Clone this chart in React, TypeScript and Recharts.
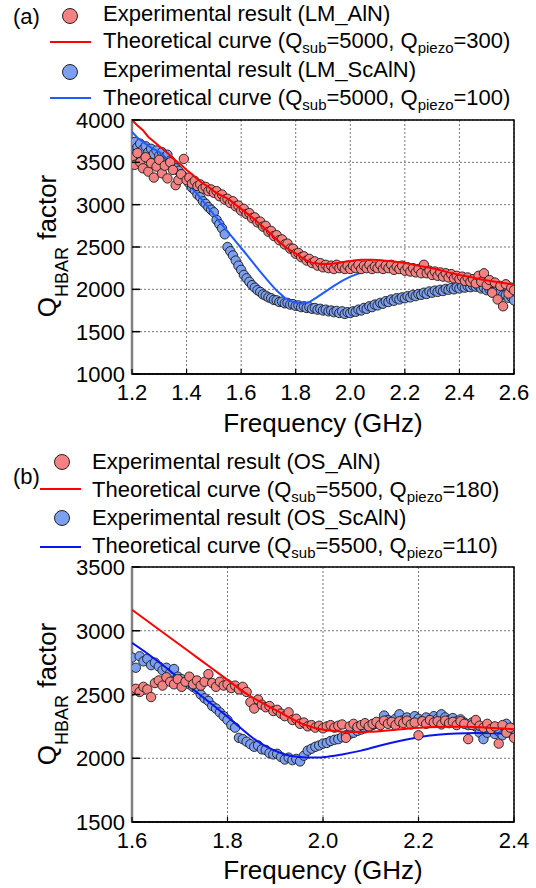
import { ComposedChart, Scatter, Line, XAxis, YAxis, CartesianGrid, ReferenceArea } from 'recharts';

const FONT = '"Liberation Sans", Arial, Helvetica, sans-serif';
const RED_DOT = '#f58282';
const BLUE_DOT = '#7d9ff0';
const RED_LINE = '#ff0000';
const BLUE_LINE_A = '#1f5bff';
const BLUE_LINE_B = '#0a14f0';

// ---- panel (a): LM samples ----
const lmFreqTicks = [1.2, 1.4, 1.6, 1.8, 2.0, 2.2, 2.4, 2.6];
const lmQTicks = [1000, 1500, 2000, 2500, 3000, 3500, 4000];

const lmFreq = [
    1.20, 1.21, 1.22, 1.23, 1.24, 1.25, 1.26, 1.27, 1.28, 1.29,
    1.30, 1.31, 1.32, 1.33, 1.34, 1.35, 1.36, 1.37, 1.38, 1.39,
    1.40, 1.41, 1.42, 1.43, 1.44, 1.45, 1.46, 1.47, 1.48, 1.49,
    1.50, 1.51, 1.52, 1.53, 1.54, 1.55, 1.56, 1.57, 1.58, 1.59,
    1.60, 1.61, 1.62, 1.63, 1.64, 1.65, 1.66, 1.67, 1.68, 1.69,
    1.70, 1.71, 1.72, 1.73, 1.74, 1.75, 1.76, 1.77, 1.78, 1.79,
    1.80, 1.81, 1.82, 1.83, 1.84, 1.85, 1.86, 1.87, 1.88, 1.89,
    1.90, 1.91, 1.92, 1.93, 1.94, 1.95, 1.96, 1.97, 1.98, 1.99,
    2.00, 2.01, 2.02, 2.03, 2.04, 2.05, 2.06, 2.07, 2.08, 2.09,
    2.10, 2.11, 2.12, 2.13, 2.14, 2.15, 2.16, 2.17, 2.18, 2.19,
    2.20, 2.21, 2.22, 2.23, 2.24, 2.25, 2.26, 2.27, 2.28, 2.29,
    2.30, 2.31, 2.32, 2.33, 2.34, 2.35, 2.36, 2.37, 2.38, 2.39,
    2.40, 2.41, 2.42, 2.43, 2.44, 2.45, 2.46, 2.47, 2.48, 2.49,
    2.50, 2.51, 2.52, 2.53, 2.54, 2.55, 2.56, 2.57, 2.58, 2.59,
    2.60,
];

const lmAlnQ = [
    3560, 3470, 3610, 3500, 3430, 3560, 3390, 3490, 3320, 3450,
    3530, 3370, 3460, 3310, 3500, 3410, 3230, 3290, 3360, 3540,
    3290, 3320, 3250, 3280, 3220, 3240, 3190, 3210, 3160, 3180,
    3140, 3160, 3100, 3120, 3060, 3070, 3020, 3040, 2980, 2990,
    2930, 2950, 2890, 2900, 2840, 2850, 2790, 2800, 2740, 2750,
    2680, 2690, 2630, 2640, 2580, 2590, 2530, 2540, 2480, 2480,
    2420, 2430, 2380, 2390, 2340, 2360, 2310, 2330, 2280, 2310,
    2260, 2290, 2250, 2280, 2240, 2290, 2250, 2270, 2240, 2280,
    2240, 2280, 2250, 2290, 2240, 2280, 2250, 2290, 2240, 2270,
    2250, 2290, 2240, 2280, 2250, 2290, 2230, 2270, 2240, 2280,
    2220, 2260, 2210, 2250, 2200, 2240, 2190, 2290, 2190, 2220,
    2170, 2210, 2160, 2200, 2150, 2190, 2140, 2180, 2130, 2160,
    2120, 2150, 2100, 2140, 2090, 2120, 2070, 2160, 2090, 2190,
    2050, 2110, 1960, 2080, 1880, 2040, 1800, 2060, 1950, 2020,
    1990,
];

const lmScalnQ = [
    3700, 3740, 3680, 3720, 3650, 3690, 3620, 3660, 3600, 3640,
    3580, 3620, 3560, 3590, 3520, 3480, 3430, 3400, 3360, 3320,
    3290, 3250, 3200, 3170, 3120, 3090, 3040, 3010, 2970, 2940,
    2910, 2820, 2770, 2720, 2650, 2500, 2450, 2400, 2340, 2280,
    2230, 2170, 2130, 2090, 2050, 2020, 1990, 1970, 1940, 1925,
    1905, 1895, 1875, 1870, 1850, 1855, 1835, 1840, 1820, 1825,
    1805, 1810, 1790, 1800, 1780, 1790, 1770, 1780, 1760, 1770,
    1750, 1760, 1740, 1750, 1730, 1745, 1720, 1740, 1710, 1730,
    1720, 1740, 1735, 1760, 1750, 1780, 1770, 1800, 1790, 1820,
    1810, 1840, 1830, 1860, 1850, 1880, 1865, 1895, 1880, 1905,
    1895, 1920, 1905, 1935, 1920, 1945, 1935, 1960, 1945, 1975,
    1960, 1985, 1970, 1995, 1980, 2005, 1995, 2015, 2000, 2025,
    2010, 2035, 2020, 2040, 2025, 2045, 2030, 2040, 2010, 2020,
    1990, 2000, 1970, 1975, 1950, 1960, 1930, 1935, 1900, 1910,
    1870,
];

const lmAlnTheory = [
    [1.20, 4000], [1.22, 3935], [1.24, 3880], [1.26, 3800], [1.28, 3745], [1.30, 3690],
    [1.32, 3640], [1.34, 3580], [1.36, 3520], [1.38, 3470], [1.40, 3410], [1.42, 3360],
    [1.44, 3300], [1.46, 3250], [1.48, 3210], [1.50, 3160], [1.52, 3120], [1.54, 3090],
    [1.56, 3050], [1.58, 3000], [1.60, 2950], [1.62, 2900], [1.64, 2850], [1.66, 2795],
    [1.68, 2740], [1.70, 2680], [1.72, 2620], [1.74, 2560], [1.76, 2505], [1.78, 2460],
    [1.80, 2425], [1.82, 2380], [1.84, 2340], [1.86, 2315], [1.88, 2305], [1.90, 2300],
    [1.92, 2300], [1.94, 2305], [1.96, 2315], [1.98, 2325], [2.00, 2335], [2.02, 2345],
    [2.04, 2350], [2.06, 2350], [2.08, 2348], [2.10, 2345], [2.12, 2340], [2.14, 2335],
    [2.16, 2328], [2.18, 2320], [2.20, 2310], [2.22, 2298], [2.24, 2285], [2.26, 2272],
    [2.28, 2260], [2.30, 2250], [2.33, 2225], [2.36, 2200], [2.40, 2170], [2.44, 2145],
    [2.48, 2115], [2.52, 2095], [2.56, 2075], [2.60, 2055],
];

const lmScalnTheory = [
    [1.20, 3860], [1.22, 3790], [1.24, 3745], [1.26, 3695], [1.28, 3655], [1.30, 3620],
    [1.32, 3565], [1.34, 3490], [1.35, 3440], [1.36, 3370], [1.37, 3330], [1.38, 3320],
    [1.40, 3260], [1.43, 3160], [1.46, 3045], [1.49, 2925], [1.52, 2800], [1.55, 2685],
    [1.58, 2565], [1.61, 2450], [1.64, 2330], [1.67, 2210], [1.70, 2095], [1.73, 1985],
    [1.76, 1900], [1.79, 1850], [1.82, 1830], [1.85, 1850], [1.88, 1910], [1.91, 1975],
    [1.94, 2040], [1.97, 2100], [2.00, 2150], [2.03, 2185], [2.06, 2220], [2.10, 2250],
    [2.15, 2270], [2.20, 2265], [2.30, 2225], [2.40, 2165], [2.50, 2095], [2.60, 2050],
];

// ---- panel (b): OS samples ----
const osFreqTicks = [1.6, 1.8, 2.0, 2.2, 2.4];
const osQTicks = [1500, 2000, 2500, 3000, 3500];

const osFreq = [
    1.600, 1.608, 1.616, 1.624, 1.632, 1.640, 1.648, 1.656, 1.664, 1.672,
    1.680, 1.688, 1.696, 1.704, 1.712, 1.720, 1.728, 1.736, 1.744, 1.752,
    1.760, 1.768, 1.776, 1.784, 1.792, 1.800, 1.808, 1.816, 1.824, 1.832,
    1.840, 1.848, 1.856, 1.864, 1.872, 1.880, 1.888, 1.896, 1.904, 1.912,
    1.920, 1.928, 1.936, 1.944, 1.952, 1.960, 1.968, 1.976, 1.984, 1.992,
    2.000, 2.008, 2.016, 2.024, 2.032, 2.040, 2.048, 2.056, 2.064, 2.072,
    2.080, 2.088, 2.096, 2.104, 2.112, 2.120, 2.128, 2.136, 2.144, 2.152,
    2.160, 2.168, 2.176, 2.184, 2.192, 2.200, 2.208, 2.216, 2.224, 2.232,
    2.240, 2.248, 2.256, 2.264, 2.272, 2.280, 2.288, 2.296, 2.304, 2.312,
    2.320, 2.328, 2.336, 2.344, 2.352, 2.360, 2.368, 2.376, 2.384, 2.392,
    2.400,
];

const osAlnQ = [
    2530, 2545, 2520, 2560, 2540, 2480, 2590, 2610, 2570, 2635,
    2600, 2580, 2620, 2560, 2600, 2640, 2580, 2610, 2570, 2600,
    2660, 2590, 2560, 2600, 2570, 2580, 2550, 2570, 2540, 2560,
    2520, 2440, 2390, 2460, 2420, 2400, 2410, 2370, 2380, 2350,
    2330, 2360, 2300, 2310, 2270, 2280, 2250, 2260, 2240, 2255,
    2235, 2250, 2260, 2240, 2255, 2265, 2160, 2250, 2270, 2245,
    2260, 2275, 2250, 2270, 2285, 2260, 2295, 2270, 2285, 2260,
    2290, 2275, 2295, 2265, 2280, 2180, 2290, 2270, 2300, 2280,
    2290, 2265, 2295, 2275, 2285, 2260, 2290, 2270, 2150, 2260,
    2300, 2255, 2240, 2270, 2230, 2250, 2115, 2260, 2200, 2240,
    2160,
];

const osScalnQ = [
    2790, 2710, 2800, 2760, 2780, 2730, 2750, 2720, 2690, 2710,
    2670, 2700, 2640, 2620, 2600, 2580, 2560, 2540, 2500, 2470,
    2450, 2410, 2390, 2360, 2330, 2300, 2260, 2240, 2160, 2150,
    2130, 2110, 2090, 2100, 2070, 2065, 2040, 2030, 2035, 2010,
    1990, 2005, 1985, 1995, 1975, 2020, 2060, 2075, 2090, 2100,
    2115, 2120, 2135, 2145, 2150, 2165, 2180, 2190, 2200, 2215,
    2225, 2235, 2245, 2260, 2270, 2280, 2335, 2300, 2290, 2310,
    2345, 2300, 2320, 2290, 2330, 2310, 2295, 2320, 2300, 2330,
    2310, 2345, 2320, 2300, 2315, 2290, 2305, 2280, 2260, 2280,
    2250, 2200, 2150, 2200, 2230, 2190, 2210, 2180, 2270, 2200,
    2180,
];

const osAlnTheory = [
    [1.60, 3165], [1.64, 3055], [1.68, 2945], [1.72, 2835], [1.76, 2725], [1.80, 2615],
    [1.84, 2505], [1.87, 2440], [1.90, 2380], [1.93, 2318], [1.96, 2265], [1.99, 2232],
    [2.02, 2215], [2.06, 2205], [2.10, 2208], [2.14, 2220], [2.18, 2233], [2.22, 2243],
    [2.26, 2248], [2.30, 2248], [2.34, 2242], [2.38, 2233], [2.40, 2228],
];

const osScalnTheory = [
    [1.60, 2905], [1.64, 2800], [1.68, 2685], [1.72, 2565], [1.76, 2445], [1.80, 2325],
    [1.83, 2230], [1.86, 2140], [1.89, 2075], [1.92, 2030], [1.95, 2010], [1.98, 2005],
    [2.01, 2012], [2.04, 2030], [2.08, 2060], [2.12, 2100], [2.16, 2135], [2.20, 2165],
    [2.24, 2185], [2.28, 2195], [2.32, 2198], [2.36, 2196], [2.40, 2190],
];

const zip = (fs: number[], qs: number[]) => fs.map((f, i) => ({ f, q: qs[i] }));
const pairs = (pts: number[][]) => pts.map(([f, q]) => ({ f, q }));

const dot = (fill: string) => (props: any) => (
    <circle cx={props.cx} cy={props.cy} r={4.7} fill={fill} stroke="#1a1a1a" strokeWidth={0.9} />
);

const XTick = (props: any) => {
    const { x, y, payload } = props;
    return (
        <g>
            <line x1={x} x2={x} y1={y} y2={y - 5} stroke="#000" strokeWidth={1.2} />
            <text x={x} y={y + 26} textAnchor="middle" fontSize={22} fontFamily={FONT} fill="#000">
                {Number(payload.value).toFixed(1)}
            </text>
        </g>
    );
};

const YTick = (props: any) => {
    const { x, y, payload } = props;
    return (
        <g>
            <line x1={x + 7} x2={x + 15} y1={y} y2={y} stroke="#000" strokeWidth={1.5} />
            <text x={x} y={y + 8} textAnchor="end" fontSize={22} fontFamily={FONT} fill="#000">
                {payload.value}
            </text>
        </g>
    );
};

function Panel({ top, height, marginTop, xTicks, yTicks, aln, scaln, alnTheory, scalnTheory, blueLine, curve }: any) {
    const xDom = [xTicks[0], xTicks[xTicks.length - 1]];
    const yDom = [yTicks[0], yTicks[yTicks.length - 1]];
    return (
        <div style={{ position: 'absolute', left: 0, top }}>
            <ComposedChart width={536} height={height} margin={{ top: marginTop, right: 22, bottom: 26, left: 0 }}>
                <CartesianGrid stroke="#777" strokeDasharray="2 2" />
                <XAxis
                    type="number"
                    dataKey="f"
                    domain={xDom}
                    ticks={xTicks}
                    allowDataOverflow
                    interval={0}
                    height={40}
                    tickSize={0}
                    tickMargin={0}
                    tickLine={false}
                    axisLine={{ stroke: '#000', strokeWidth: 1.5 }}
                    tick={(p: any) => <XTick {...p} />}
                />
                <YAxis
                    type="number"
                    dataKey="q"
                    domain={yDom}
                    ticks={yTicks}
                    allowDataOverflow
                    interval={0}
                    width={132}
                    tickSize={0}
                    tickMargin={7}
                    tickLine={false}
                    axisLine={{ stroke: '#808080', strokeWidth: 2.5 }}
                    tick={(p: any) => <YTick {...p} />}
                />
                <ReferenceArea x1={xDom[0]} x2={xDom[1]} y1={yDom[0]} y2={yDom[1]} fill="none" stroke="#000" strokeWidth={1.5} />
                <Scatter data={scaln} dataKey="q" shape={dot(BLUE_DOT)} isAnimationActive={false} zIndex={600} />
                <Line data={scalnTheory} dataKey="q" type={curve} stroke={blueLine} strokeWidth={2} dot={false} isAnimationActive={false} zIndex={610} />
                <Scatter data={aln} dataKey="q" shape={dot(RED_DOT)} isAnimationActive={false} zIndex={620} />
                <Line data={alnTheory} dataKey="q" type={curve} stroke={RED_LINE} strokeWidth={2} dot={false} isAnimationActive={false} zIndex={630} />
            </ComposedChart>
        </div>
    );
}

function TheoryLabel({ x, y, sub, piezo }: { x: number, y: number, sub: string, piezo: string }) {
    return (
        <text x={x} y={y} fontSize={22}>
            Theoretical curve (Q<tspan fontSize={15} dy={5}>sub</tspan>
            <tspan dy={-5}>={sub}, Q</tspan>
            <tspan fontSize={15} dy={5}>piezo</tspan>
            <tspan dy={-5}>={piezo})</tspan>
        </text>
    );
}

function YTitle({ x, y }: { x: number, y: number }) {
    return (
        <text transform={`translate(${x},${y}) rotate(-90)`} textAnchor="middle" fontSize={26}>
            Q<tspan fontSize={18} dy={12}>HBAR</tspan>
            <tspan dy={-12}> factor</tspan>
        </text>
    );
}

export default function App() {
    return (
        <div style={{ position: 'absolute', left: 0, top: 0, width: 536, height: 888, background: '#fff', overflow: 'hidden' }}>
            <Panel
                top={0}
                height={440}
                marginTop={120}
                xTicks={lmFreqTicks}
                yTicks={lmQTicks}
                aln={zip(lmFreq, lmAlnQ)}
                scaln={zip(lmFreq, lmScalnQ)}
                alnTheory={pairs(lmAlnTheory)}
                scalnTheory={pairs(lmScalnTheory)}
                blueLine={BLUE_LINE_A}
                curve="linear"
            />
            <Panel
                top={440}
                height={448}
                marginTop={127}
                xTicks={osFreqTicks}
                yTicks={osQTicks}
                aln={zip(osFreq, osAlnQ)}
                scaln={zip(osFreq, osScalnQ)}
                alnTheory={pairs(osAlnTheory)}
                scalnTheory={pairs(osScalnTheory)}
                blueLine={BLUE_LINE_B}
                curve="monotone"
            />
            <svg width={536} height={888} style={{ position: 'absolute', left: 0, top: 0, pointerEvents: 'none' }} fontFamily={FONT} fill="#000">
                {/* legend (a) */}
                <text x={13} y={24} fontSize={22}>(a)</text>
                <circle cx={70} cy={16} r={7.5} fill={RED_DOT} stroke="#222" strokeWidth={1} />
                <text x={103} y={21} fontSize={22}>Experimental result (LM_AlN)</text>
                <line x1={50} x2={91} y1={42} y2={42} stroke={RED_LINE} strokeWidth={2} />
                <TheoryLabel x={103} y={48} sub="5000" piezo="300" />
                <circle cx={70} cy={72} r={7.5} fill={BLUE_DOT} stroke="#222" strokeWidth={1} />
                <text x={103} y={77} fontSize={22}>Experimental result (LM_ScAlN)</text>
                <line x1={50} x2={91} y1={98} y2={98} stroke={BLUE_LINE_A} strokeWidth={2} />
                <TheoryLabel x={103} y={105} sub="5000" piezo="100" />

                {/* legend (b) */}
                <text x={13} y={484} fontSize={22}>(b)</text>
                <circle cx={62} cy={462} r={7.5} fill={RED_DOT} stroke="#222" strokeWidth={1} />
                <text x={92} y={469} fontSize={22}>Experimental result (OS_AlN)</text>
                <line x1={40} x2={81} y1={489} y2={489} stroke={RED_LINE} strokeWidth={2} />
                <TheoryLabel x={92} y={497} sub="5500" piezo="180" />
                <circle cx={62} cy={518} r={7.5} fill={BLUE_DOT} stroke="#222" strokeWidth={1} />
                <text x={92} y={525} fontSize={22}>Experimental result (OS_ScAlN)</text>
                <line x1={40} x2={81} y1={547} y2={547} stroke={BLUE_LINE_B} strokeWidth={2} />
                <TheoryLabel x={92} y={553} sub="5500" piezo="110" />

                {/* axis titles */}
                <YTitle x={56} y={246} />
                <YTitle x={56} y={694} />
                <text x={323} y={432} textAnchor="middle" fontSize={26}>Frequency (GHz)</text>
                <text x={323} y={879} textAnchor="middle" fontSize={26}>Frequency (GHz)</text>
            </svg>
        </div>
    );
}
